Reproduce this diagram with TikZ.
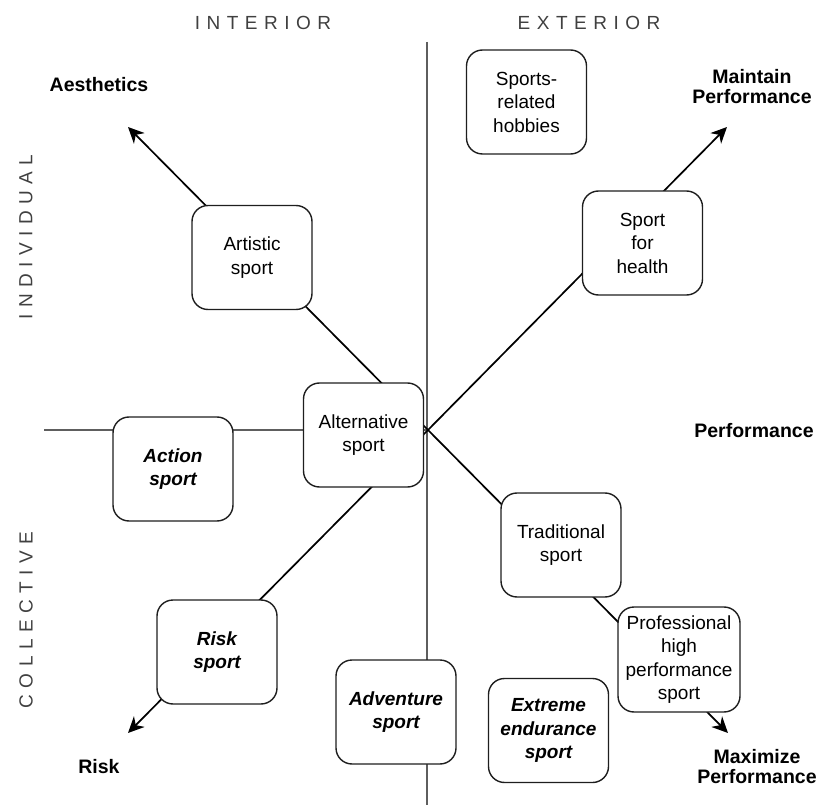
\documentclass[tikz,border=0pt]{standalone}
\usepackage{fontspec}
\setmainfont{Liberation Sans}
\usetikzlibrary{arrows.meta,backgrounds}

% letter-spaced capitals for the axis headings
\newcommand\lsp[1]{\lsploop#1\relax\kern-6.5pt}
\def\lsploop#1{\ifx#1\relax\else#1\kern6.5pt\expandafter\lsploop\fi}

\definecolor{axisgrey}{HTML}{5E5E5E}
\definecolor{headgrey}{HTML}{404040}
\definecolor{boxline}{HTML}{1E1E1E}

\tikzset{
  sportbox/.style={draw=boxline, line width=1.4pt, fill=white,
    rounded corners=16pt, minimum width=120pt, minimum height=104pt,
    inner sep=1pt, align=center, font=\fontsize{19}{23.5}\selectfont},
  emphbox/.style={sportbox, font=\fontsize{19}{23.5}\selectfont\bfseries\itshape},
  goal/.style={align=center, inner sep=0pt,
    font=\fontsize{19.5}{20}\selectfont\bfseries},
  heading/.style={inner sep=0pt, text=headgrey,
    font=\fontsize{19}{22}\selectfont},
  axis/.style={draw=axisgrey, line width=2.8pt},
  baseline axis/.style={draw=axisgrey, line width=2.2pt},
  spoke/.style={draw=black, line width=1.7pt},
  arrowspoke/.style={spoke, -{Stealth[length=16pt,width=15pt,inset=5pt]}}
}

\begin{document}
\begin{tikzpicture}[x=1pt, y={(0pt,-1pt)}]
  \useasboundingbox (0,0) rectangle (820,805);

  % crossing point and the ends of the axes
  \coordinate (hub) at (428,430);
  \coordinate (vTop) at (427,42);
  \coordinate (vBot) at (427,805);
  \coordinate (hLeft) at (44,430);
  \coordinate (tipAes) at (128,127);
  \coordinate (tipMaintain) at (727,127);
  \coordinate (tipRisk) at (128,733);
  \coordinate (tipMax) at (728,733);

  % headings
  \node[heading] (lblInt) at (263,23) {\lsp{INTERIOR}};
  \node[heading] (lblExt) at (589,23) {\lsp{EXTERIOR}};
  \node[heading, rotate=90] (lblInd) at (26,237) {\lsp{INDIVIDUAL}};
  \node[heading, rotate=90] (lblCol) at (26,620) {\lsp{COLLECTIVE}};

  % direction labels
  \node[goal] (lblAes) at (99,85) {Aesthetics};
  \node[goal] (lblMaintain) at (752,87) {Maintain\\Performance};
  \node[goal] (lblPerf) at (754,431) {Performance};
  \node[goal] (lblMax) at (757,767) {Maximize\\Performance};
  \node[goal] (lblRisk) at (99,767) {Risk};

  % sport categories
  \node[sportbox] (artistic) at (252,257.5) {Artistic\\sport};
  \node[sportbox] (hobbies) at (526.5,102) {Sports-\\related\\hobbies};
  \node[sportbox] (health) at (642.5,243) {Sport\\for\\health};
  \node[sportbox] (alt) at (363.5,435) {Alternative\\sport};
  \node[emphbox] (action) at (173,469) {Action\\sport};
  \node[emphbox] (risk) at (217,652) {Risk\\sport};
  \node[emphbox] (adventure) at (396,712) {Adventure\\sport};
  \node[sportbox] (traditional) at (561,545) {Traditional\\sport};
  \node[sportbox, minimum width=122pt, minimum height=105pt] (pro) at (679,659.5) {Professional\\high\\performance\\sport};
  \node[emphbox] (extreme) at (548.5,730.5) {Extreme\\endurance\\sport};

  % axes and spokes run behind the boxes
  \begin{pgfonlayer}{background}
    \draw[axis] (vTop) -- (vBot);
    \draw[baseline axis] (hLeft) -- (hub);
    \draw[arrowspoke] (hub) -- (tipAes);
    \draw[arrowspoke] (hub) -- (tipMaintain);
    \draw[arrowspoke] (hub) -- (tipRisk);
    \draw[arrowspoke] (hub) -- (tipMax);
  \end{pgfonlayer}
\end{tikzpicture}
\end{document}
